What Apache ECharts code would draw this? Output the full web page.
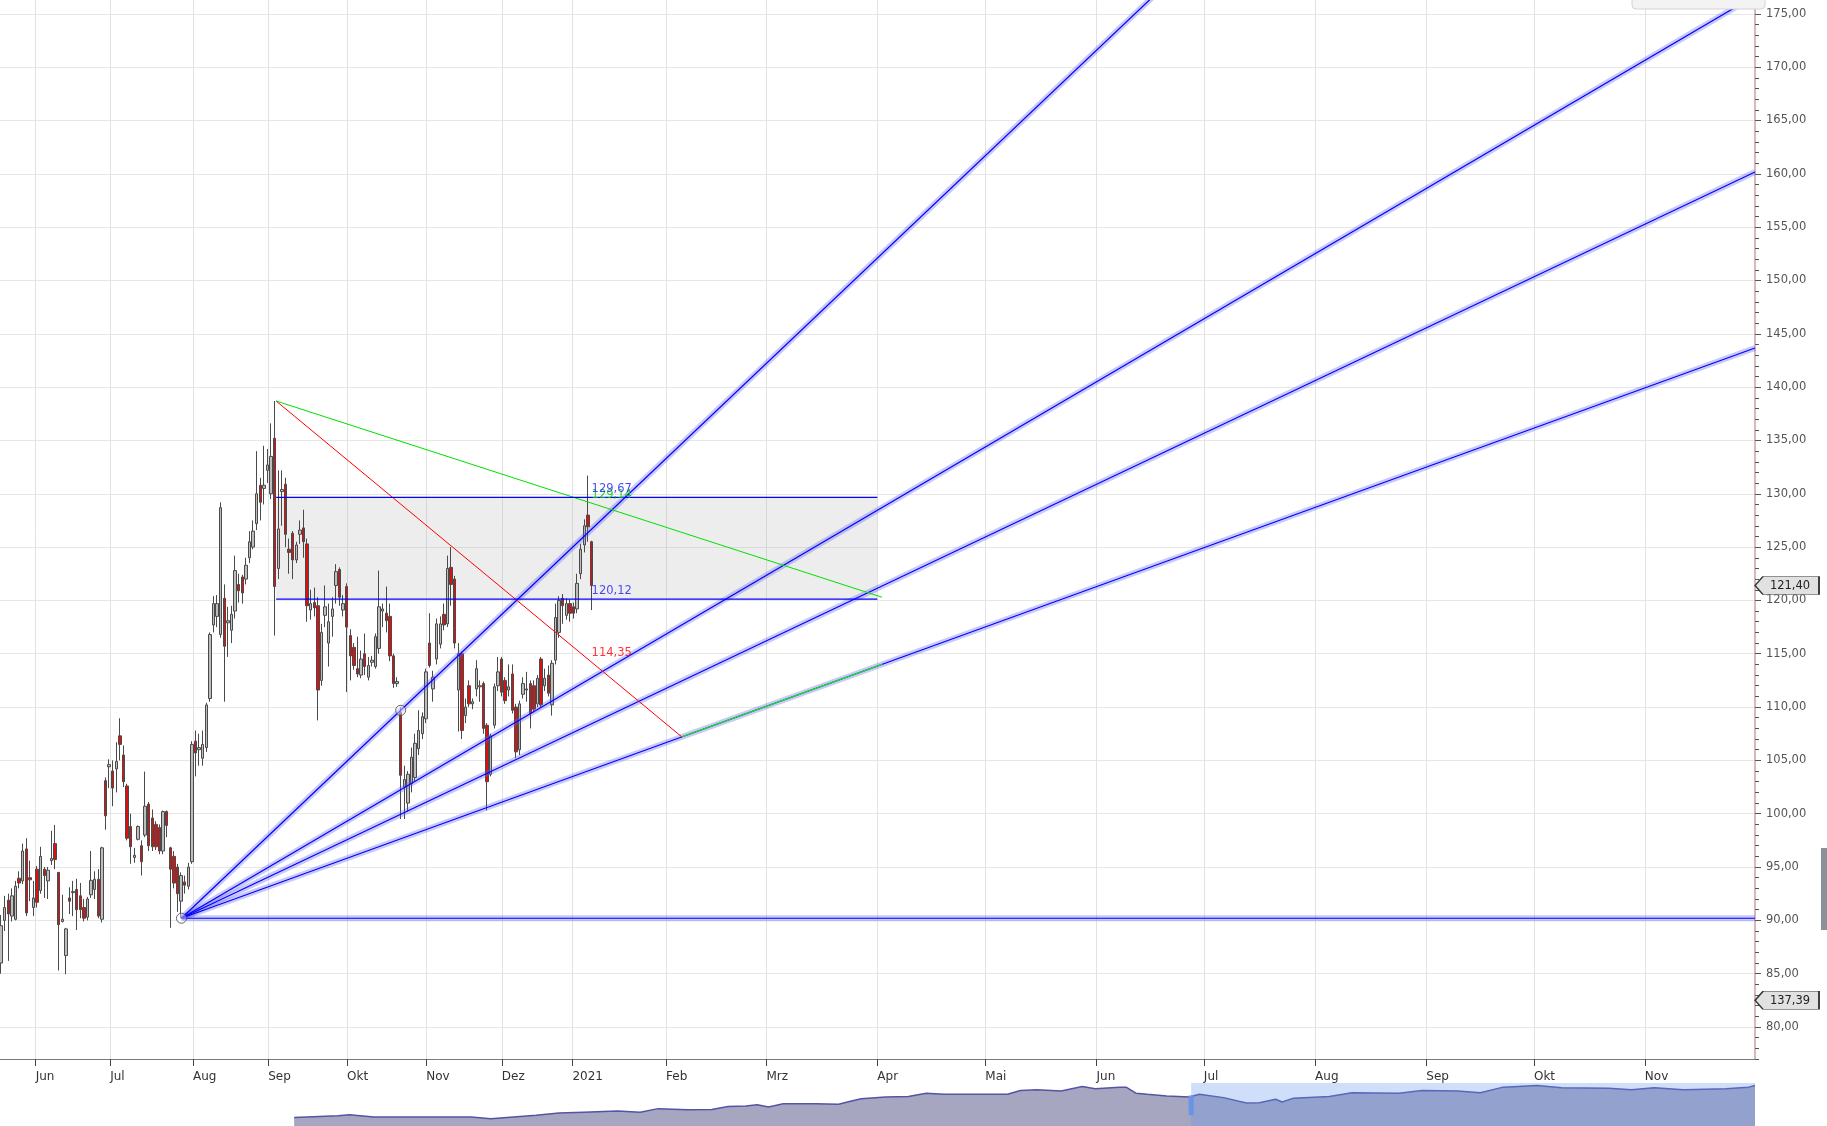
<!DOCTYPE html>
<html>
<head>
<meta charset="utf-8">
<script src="https://cdn.jsdelivr.net/npm/echarts@6/dist/echarts.min.js"></script>
<style>
html,body{margin:0;padding:0;background:#ffffff;overflow:hidden;}
#c{width:1827px;height:1126px;}
</style>
</head>
<body>
<div id="c"></div>
<script>
// ================= DATA =================
// Month tick labels of the time axis and their slot positions (1 slot = 1 trading day / future calendar day)
const monthLabels = ['Jun','Jul','Aug','Sep','Okt','Nov','Dez','2021','Feb','Mrz','Apr','Mai','Jun','Jul','Aug','Sep','Okt','Nov'];
const monthSlots  = [9.6,30.3,53.3,74.2,96.1,118.1,139.1,158.7,184.7,212.6,243.4,273.4,304.3,334.1,365.0,395.9,425.8,456.6];

// Price axis tick labels
const priceTicks = [80,85,90,95,100,105,110,115,120,125,130,135,140,145,150,155,160,165,170,175];

// Daily candles (slot index = position in array)
const open  = [86,90,91.9,90.4,90.1,93.95,93.7,96.7,94,91.2,94.8,92.8,94.8,93.7,95.6,97.2,94.5,89.9,86.7,92.1,
  92.6,92.9,92.3,91.2,90.3,92.4,92.9,93.85,90.1,103.1,104.4,104,104.2,107.3,105.5,102.6,98.8,95.9,97.6,97,
  98,100.9,99.6,99,98.7,96.5,100.2,96.8,96,95,91.8,93.6,93.2,95.5,106.8,106,105.2,106.2,110.8,117.7,
  118.5,116.8,120.2,117.9,117.2,119,121.5,122.2,122,124,125,127.2,130.8,130.5,132.2,130,135.2,123,130.2,130.9,
  124.8,126.3,123.8,126.2,126.8,125.3,119.1,119.8,119.5,112.5,118.6,116,118.5,121.4,122.9,119.1,121.3,116.7,115.6,113.6,
  113,115,112.8,114.2,113.8,115.5,119,118.8,118.5,114.8,112.2,109.5,102.5,101,102.8,103.4,106.1,107.5,108.9,116,
  111.7,114.5,115.9,118.7,117.8,123.1,122,111.6,115,109.2,112,110.3,111.7,111.9,112.2,108.3,103.7,108.3,112,114.5,
  112.5,111.6,113.1,110,106,111.2,111.6,112.2,112,110.3,114.5,112,113,110.2,114.4,117,120.2,118.6,119.7,119.4,
  119.2,122.5,125.2,128,125.5];
const close = [89.5,91.2,90.6,92.3,93.2,93.5,96.5,90.7,93.8,92.1,91.7,96,94.2,94.7,95.8,95.7,89.6,90.1,89.2,91.8,
  92.7,91,91,90.2,92,93.75,93.85,90.4,96.8,99.8,104.6,102.4,104.9,106.5,103,97.7,96.9,96.1,98.8,95.5,
  100.7,97,96.9,96.9,96.5,100.2,98.9,94.8,93.5,92.5,94.2,93.3,95,106.5,105.7,106.2,106.5,110.2,116.8,119.7,
  119.7,128.7,115.7,118.1,118.7,122.8,120.9,120.7,123.3,125.5,126.5,130,129.2,130.8,132.7,133.5,121.3,126.7,130.4,126.2,
  124.5,123.8,125.2,126.6,125.5,119.5,119.7,119.3,111.6,117,119.4,118,119.2,122.7,120.3,119.7,117.5,114.8,113.9,113.1,
  114.5,113.8,113.9,114.4,116.6,119.4,119.2,118.1,114.8,112.2,112.4,103.6,103.2,103.7,105.3,106.6,107.8,109.1,113.3,113.9,
  112.8,117.8,117.8,117.7,123,121.5,116,115,107.8,110,110.3,110.5,113.6,112,108,103,107.3,111.9,113.3,111.4,
  110.6,111.9,109.7,105.8,110.3,112.2,111.7,109.4,109.8,112.7,110.2,112.7,111.3,114.1,118.4,120,119.5,119.7,118.8,118.8,
  121.6,124.8,127,126.9,121.4];
const low   = [85,89,86.2,89.9,90,93,93.4,90.4,91.8,90.4,91.2,92.5,92.1,92,95.2,94.8,85.3,89.8,84.95,90.6,
  90.4,89.1,90.2,89.9,90,92.1,92,90.2,89.8,98.5,102.4,100.7,102,105,102.5,97.5,95.3,95.4,97.5,94.2,
  97.8,96.5,96.5,96.6,96.2,96.2,97.8,89.3,93,90.8,90.2,92.5,92.9,95.3,103.5,104.5,104.5,105.8,110.5,117,
  117.5,116.5,110.5,114.7,116,118.3,119.8,119.7,121.5,123.5,124.8,126.6,127.5,129,131,129.5,116.7,122,127,125,
  122.5,122,123.5,125.3,124,118,118.2,118.5,108.75,112,117.5,113.8,116.6,119.7,119.5,118.5,111.4,112.5,113.5,112.8,
  112.7,113,112.5,113.8,113.6,115,117.5,117,114.3,111.8,111.9,99.5,99.5,100.2,102,103,105.5,107,108.5,113.7,
  110.5,114,115.5,117.2,117.5,119.5,115.5,107.7,107,108.5,110,109.8,111,110.5,107.5,100.3,103.5,108,111.5,111,
  110.3,111,109.4,105.2,105.5,110.8,110.5,108,109.5,110,110,111.5,111,109.2,114,116.5,117.8,118.2,118,118.3,
  118.8,122,124.5,125.5,119.1];
const high  = [90.5,92.3,92.5,93,93.7,94.6,97.2,97.7,95.6,93.7,95.1,96.9,95,95,98.4,98.95,94.5,92.4,89.3,93.1,
  93.7,93.9,93.5,92,92.2,96.5,94.6,94.8,96.9,103.4,105.1,105,106.7,108.95,106.4,102.8,100,96.8,98.9,97.5,
  103.95,101.1,100.4,99.3,99,100.3,100.3,96.9,96.5,95.3,94.5,94.2,95.4,106.8,107.8,107.5,107.8,110.4,117,120.4,
  120.5,129.2,121.5,119.4,119.5,124.2,122.5,122.4,124,126.5,127.5,134,131.5,134.5,134.2,136.6,138.7,132.2,132.2,131.5,
  125.8,126.5,125.5,127.5,128.5,125.8,121,121.2,120.3,117.8,121.4,119.7,120.3,123.4,123.1,120.5,121.6,117.3,116,116.6,
  115.3,116.9,114.7,114.8,116.9,122.8,119.7,121.3,119.7,115,112.8,110,104.5,104,106.2,107.5,109.7,109.5,113.6,118.8,
  113.4,118.3,118.5,119.7,124.2,125,122.3,116,115.2,110.8,112.5,110.8,114.4,112.5,112.4,108.5,107.5,112.2,114.7,114.7,
  112.8,114,114,110.3,110.6,112.8,113.3,112.5,112.5,113,114.7,113.6,113.9,114.4,119.7,120.4,120.6,120.2,120.1,119.8,
  122.5,125.3,127.6,131.7,125.6];

// Fibonacci fan drawing: origin, anchor and fan levels
const fanOrigin = [50.1, 90.2];
const fanAnchor = [111.0, 109.7];
const fanLevels = [1, 0.618, 0.5, 0.382, 0];

// Trend lines from the September high
const peakPoint  = [76.4, 138.7];
const redEndX    = 189.1;
const greenEnd   = [244.7, 120.3];

// Range box
const boxX      = [76.4, 243.4];
const boxLevels = [129.67, 120.12];

// Value labels at the last bar
const labelSlot   = 163.9;
const labelValues = [129.14, 129.67, 120.12, 114.35];
const labelColors = ['#00c800', '#1a1aff', '#1a1aff', '#ff0000'];

// Price tags on the axis
const tagTexts = [null, '137,39'];
const tagLevels = [121.4, 82.5];

// Navigator (overview) series
const navMonths = [18.1,20.8,21.5,23.0,25.8,29.0,30.2,31.2,33.0,34.4,35.9,38.0,39.4,40.5,42.3,43.8,44.8,45.9,46.6,47.3,
  48.2,50.2,51.6,52.4,53.0,54.5,55.9,57.0,58.1,60.2,62.0,62.8,63.8,65.3,66.6,67.4,68.9,69.3,69.9,70.6,
  71.8,73.2,73.8,75.3,76.7,77.5,78.5,78.9,79.6,81.8,83.2,86.1,87.5,89.7,91.1,92.5,94.6,96.1,99.0,100.4,
  101.8,103.6,106.2,107.6,108.0];
const navValues = [29.7,35.5,39,31.7,31.7,31.7,25.1,29.7,37.5,45.3,48.2,51.9,48.2,60.6,56.8,57.7,68.4,70.1,74.1,66.4,
  77.9,77.9,75.9,87.4,95.2,101,103,114.5,110.5,110.5,110.5,124,126.1,122,137.6,129.8,135.6,135.6,114.5,110.5,
  104.7,101,110.5,99,79.9,80.8,93.2,83.7,97.2,103,116.3,114.5,124,122,116.3,135.6,141.3,133.6,131.8,126.1,
  133.6,126.1,129.8,135.6,141.3];
const navWindow = [73.3, 108.0];

// ================= CHART =================
const X_MIN = -0.3, X_MAX = 487.2, Y_MIN = 77, Y_MAX = 176.3;
const FONT = 'DejaVu Sans';
const fmt = v => v.toFixed(2).replace('.', ',');

const candleData = open.map((o, i) => [i, o, close[i], low[i], high[i]]);

const fanSlope = (fanAnchor[1] - fanOrigin[1]) / (fanAnchor[0] - fanOrigin[0]);
const fanY = (lv, x) => fanOrigin[1] + lv * fanSlope * (x - fanOrigin[0]);
const dLevel = fanLevels[3];
const redEnd = [redEndX, fanY(dLevel, redEndX)];

const series = [];

// range box fill
series.push({
  type: 'line', xAxisIndex: 0, yAxisIndex: 0, z: 1, silent: true, symbol: 'none',
  data: [[boxX[0], boxLevels[1]]], lineStyle: { width: 0 },
  markArea: { silent: true, z: 1, itemStyle: { color: 'rgba(175,175,175,0.22)' },
    data: [[{ coord: [boxX[0], boxLevels[0]] }, { coord: [boxX[1], boxLevels[1]] }]] }
});

// candles
series.push({
  type: 'candlestick', xAxisIndex: 0, yAxisIndex: 0, z: 2, silent: true,
  data: candleData, encode: { x: 0, y: [1, 2, 3, 4] },
  barWidth: 3,
  itemStyle: { color: '#bdbdbd', color0: '#dd0f0f', borderColor: '#4a4a4a', borderColor0: '#4a4a4a', borderWidth: 1 },
  markPoint: {
    silent: true, animation: false,
    data: tagLevels.map((lv, i) => ({
      coord: [X_MAX, lv], value: lv,
      symbol: 'path://M0,9L8,0L64,0L64,18L8,18Z', symbolSize: [64, 18], symbolOffset: [32, 0], symbolKeepAspect: false,
      itemStyle: { color: '#e1e1e1', borderColor: '#333', borderWidth: 1 },
      label: { show: true, position: 'inside', offset: [3, 1], color: '#222', fontFamily: FONT, fontSize: 11.5,
        formatter: tagTexts[i] || fmt(close[close.length - 1]) }
    }))
  }
});

// fan lines (glow + core)
fanLevels.forEach(lv => {
  const pts = [[fanOrigin[0], fanOrigin[1]], [X_MAX, fanY(lv, X_MAX)]];
  series.push({ type: 'line', xAxisIndex: 0, yAxisIndex: 0, z: 3, silent: true, symbol: 'none', clip: true,
    data: pts, lineStyle: { color: 'rgba(90,90,240,0.33)', width: 6 } });
  series.push({ type: 'line', xAxisIndex: 0, yAxisIndex: 0, z: 4, silent: true, symbol: 'none', clip: true,
    data: pts, lineStyle: { color: '#0000ff', width: 1.2 } });
});

// red and green trend lines
series.push({ type: 'line', xAxisIndex: 0, yAxisIndex: 0, z: 5, silent: true, symbol: 'none',
  data: [peakPoint, redEnd], lineStyle: { color: '#ff0000', width: 1 } });
series.push({ type: 'line', xAxisIndex: 0, yAxisIndex: 0, z: 5, silent: true, symbol: 'none',
  data: [peakPoint, greenEnd], lineStyle: { color: '#00e000', width: 1 } });
series.push({ type: 'line', xAxisIndex: 0, yAxisIndex: 0, z: 5, silent: true, symbol: 'none',
  data: [redEnd, [greenEnd[0], fanY(dLevel, greenEnd[0])]], lineStyle: { color: '#22dd22', width: 1.2 } });

// box border lines
boxLevels.forEach(lv => {
  series.push({ type: 'line', xAxisIndex: 0, yAxisIndex: 0, z: 5, silent: true, symbol: 'none',
    data: [[boxX[0], lv], [boxX[1], lv]], lineStyle: { color: '#0000ff', width: 1.2 } });
});

// anchor circles
series.push({ type: 'scatter', xAxisIndex: 0, yAxisIndex: 0, z: 7, silent: true, symbol: 'circle', symbolSize: 10,
  data: [fanOrigin, fanAnchor],
  itemStyle: { color: 'rgba(255,255,255,0.5)', borderColor: '#444', borderWidth: 1 } });

// value labels
series.push({ type: 'scatter', xAxisIndex: 0, yAxisIndex: 0, z: 8, silent: true, symbolSize: 1,
  itemStyle: { color: 'rgba(0,0,0,0)' },
  data: labelValues.map((v, i) => ({ value: [labelSlot, v],
    label: { show: true, position: 'right', distance: 0, offset: [0, -8], color: labelColors[i],
      fontFamily: FONT, fontSize: 11.5, formatter: fmt(v) } }))
});

// navigator
series.push({ type: 'line', xAxisIndex: 1, yAxisIndex: 2, z: 2, silent: true, symbol: 'none',
  data: navMonths.map((m, i) => [m, navValues[i]]),
  lineStyle: { color: '#5454a6', width: 1.5 }, areaStyle: { color: '#a6a6c0', opacity: 1 } });
series.push({ type: 'line', xAxisIndex: 1, yAxisIndex: 2, z: 6, silent: true, symbol: 'none',
  data: [[navWindow[0], 37.5], [navWindow[0], 106.7]],
  lineStyle: { color: '#6c93e6', width: 5 },
  markArea: { silent: true, z: 10, itemStyle: { color: 'rgba(100,150,235,0.3)' },
    data: [[{ coord: [navWindow[0], 0] }, { coord: [navWindow[1], 150] }]] } });

const option = {
  animation: false,
  backgroundColor: '#ffffff',
  textStyle: { fontFamily: FONT },
  grid: [
    { left: 0, top: 0, width: 1755, height: 1059, containLabel: false },
    { left: 0, top: 1083, width: 1755, height: 52, containLabel: false }
  ],
  xAxis: [
    { type: 'value', gridIndex: 0, min: X_MIN, max: X_MAX, position: 'bottom',
      axisLine: { show: true, onZero: false, lineStyle: { color: '#7a7a7a', width: 1 } },
      axisTick: { show: true, customValues: monthSlots, length: 7, lineStyle: { color: '#444' } },
      axisLabel: { show: true, customValues: monthSlots, align: 'left', margin: 12, color: '#333',
        fontFamily: FONT, fontSize: 12,
        formatter: v => { let bi = 0, bd = 1e9; monthSlots.forEach((s, i) => { const d = Math.abs(s - v); if (d < bd) { bd = d; bi = i; } }); return monthLabels[bi]; } },
      splitLine: { show: true, lineStyle: { color: '#e2e2e2', width: 1 } } },
    { type: 'value', gridIndex: 1, min: 0, max: 108, show: false }
  ],
  yAxis: [
    { type: 'value', gridIndex: 0, min: Y_MIN, max: Y_MAX, position: 'right',
      axisLine: { show: true, onZero: false, lineStyle: { color: '#c9a2a2', width: 1.5 } },
      axisTick: { show: true, customValues: priceTicks, length: 6, lineStyle: { color: '#555' } },
      axisLabel: { show: true, customValues: priceTicks, margin: 11, color: '#555', fontFamily: FONT, fontSize: 11.5,
        formatter: v => fmt(v) },
      splitLine: { show: true, lineStyle: { color: '#e6e6e6', width: 1 } } },
    { type: 'value', gridIndex: 0, min: Y_MIN, max: Y_MAX, interval: 1, position: 'right',
      axisLine: { show: false, onZero: false },
      axisTick: { show: true, length: 4, lineStyle: { color: '#555' } },
      axisLabel: { show: false }, splitLine: { show: false } },
    { type: 'value', gridIndex: 1, min: 0, max: 150, show: false }
  ],
  graphic: [
    { type: 'rect', z: 100, shape: { x: 1632, y: -6, width: 133, height: 15, r: 4 },
      style: { fill: '#f3f3f3', stroke: '#d4d4d4', lineWidth: 1 } },
    { type: 'rect', z: 100, shape: { x: 1821, y: 848, width: 6, height: 82 },
      style: { fill: '#8b9099' } }
  ],
  series: series
};

const chart = echarts.init(document.getElementById('c'), null, { renderer: 'canvas', width: 1827, height: 1126 });
chart.setOption(option);
</script>
</body>
</html>
